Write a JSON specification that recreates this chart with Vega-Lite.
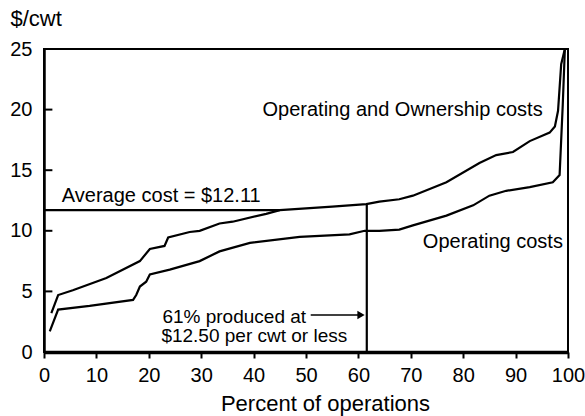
{
  "$schema": "https://vega.github.io/schema/vega-lite/v6.json",
  "width": 524,
  "height": 303,
  "autosize": "none",
  "padding": {"left": 44, "top": 49, "right": 17, "bottom": 64},
  "background": "white",
  "config": {
    "font": "Liberation Sans",
    "view": {"stroke": "black", "strokeWidth": 2},
    "axis": {
      "grid": false,
      "domainColor": "black",
      "tickColor": "black",
      "labelColor": "black",
      "titleColor": "black",
      "labelFont": "Liberation Sans",
      "titleFont": "Liberation Sans",
      "labelFontSize": 20,
      "titleFontSize": 22,
      "titleFontWeight": "normal"
    }
  },
  "datasets": {
    "curves": [
      {"series": "Operating and Ownership", "pct": 1.4, "cost": 3.2},
      {"series": "Operating and Ownership", "pct": 2.7, "cost": 4.7},
      {"series": "Operating and Ownership", "pct": 5.5, "cost": 5.1},
      {"series": "Operating and Ownership", "pct": 11.9, "cost": 6.1},
      {"series": "Operating and Ownership", "pct": 18.3, "cost": 7.5},
      {"series": "Operating and Ownership", "pct": 20.2, "cost": 8.5},
      {"series": "Operating and Ownership", "pct": 23.0, "cost": 8.75},
      {"series": "Operating and Ownership", "pct": 23.7, "cost": 9.45},
      {"series": "Operating and Ownership", "pct": 27.8, "cost": 9.9},
      {"series": "Operating and Ownership", "pct": 29.7, "cost": 10.0},
      {"series": "Operating and Ownership", "pct": 33.5, "cost": 10.6},
      {"series": "Operating and Ownership", "pct": 36.0, "cost": 10.75},
      {"series": "Operating and Ownership", "pct": 42.4, "cost": 11.4},
      {"series": "Operating and Ownership", "pct": 45.0, "cost": 11.7},
      {"series": "Operating and Ownership", "pct": 50.0, "cost": 11.85},
      {"series": "Operating and Ownership", "pct": 55.0, "cost": 12.0},
      {"series": "Operating and Ownership", "pct": 61.5, "cost": 12.2},
      {"series": "Operating and Ownership", "pct": 64.0, "cost": 12.4},
      {"series": "Operating and Ownership", "pct": 67.8, "cost": 12.6},
      {"series": "Operating and Ownership", "pct": 70.4, "cost": 12.9},
      {"series": "Operating and Ownership", "pct": 76.8, "cost": 14.0},
      {"series": "Operating and Ownership", "pct": 83.1, "cost": 15.6},
      {"series": "Operating and Ownership", "pct": 86.3, "cost": 16.25},
      {"series": "Operating and Ownership", "pct": 89.5, "cost": 16.5},
      {"series": "Operating and Ownership", "pct": 92.7, "cost": 17.4},
      {"series": "Operating and Ownership", "pct": 96.5, "cost": 18.1},
      {"series": "Operating and Ownership", "pct": 97.5, "cost": 18.6},
      {"series": "Operating and Ownership", "pct": 98.1, "cost": 19.9},
      {"series": "Operating and Ownership", "pct": 98.7, "cost": 23.75},
      {"series": "Operating and Ownership", "pct": 99.4, "cost": 25.0},
      {"series": "Operating", "pct": 1.1, "cost": 1.7},
      {"series": "Operating", "pct": 2.7, "cost": 3.5},
      {"series": "Operating", "pct": 8.7, "cost": 3.8},
      {"series": "Operating", "pct": 17.0, "cost": 4.3},
      {"series": "Operating", "pct": 17.6, "cost": 4.7},
      {"series": "Operating", "pct": 18.3, "cost": 5.4},
      {"series": "Operating", "pct": 19.5, "cost": 5.8},
      {"series": "Operating", "pct": 20.2, "cost": 6.4},
      {"series": "Operating", "pct": 24.0, "cost": 6.8},
      {"series": "Operating", "pct": 29.7, "cost": 7.5},
      {"series": "Operating", "pct": 33.5, "cost": 8.3},
      {"series": "Operating", "pct": 39.3, "cost": 9.0},
      {"series": "Operating", "pct": 48.8, "cost": 9.5},
      {"series": "Operating", "pct": 58.3, "cost": 9.7},
      {"series": "Operating", "pct": 61.2, "cost": 10.0},
      {"series": "Operating", "pct": 64.0, "cost": 10.0},
      {"series": "Operating", "pct": 67.8, "cost": 10.1},
      {"series": "Operating", "pct": 70.4, "cost": 10.45},
      {"series": "Operating", "pct": 76.8, "cost": 11.25},
      {"series": "Operating", "pct": 81.9, "cost": 12.1},
      {"series": "Operating", "pct": 85.0, "cost": 12.9},
      {"series": "Operating", "pct": 88.2, "cost": 13.3},
      {"series": "Operating", "pct": 92.7, "cost": 13.6},
      {"series": "Operating", "pct": 97.1, "cost": 14.0},
      {"series": "Operating", "pct": 98.4, "cost": 14.6},
      {"series": "Operating", "pct": 99.0, "cost": 20.4},
      {"series": "Operating", "pct": 99.4, "cost": 25.0}
    ],
    "rules": [
      {"name": "average", "x": 0, "x2": 45, "y": 11.7, "y2": 11.7},
      {"name": "cutoff", "x": 61.6, "x2": 61.6, "y": 0, "y2": 12.2}
    ],
    "yticks": [
      {"x": 0, "x2": 1.6, "y": 5, "y2": 5},
      {"x": 0, "x2": 1.6, "y": 10, "y2": 10},
      {"x": 0, "x2": 1.6, "y": 15, "y2": 15},
      {"x": 0, "x2": 1.6, "y": 20, "y2": 20}
    ],
    "arrow": [
      {"x": 50.9, "x2": 60.4, "y": 3.05, "y2": 3.05}
    ],
    "arrowhead": [
      {"x": 60.5, "y": 3.05}
    ],
    "labels": [
      {"text": "Average cost = $12.11", "x": 3.4, "y": 12.4, "size": "big"},
      {"text": "Operating and Ownership costs", "x": 41.7, "y": 19.45, "size": "big"},
      {"text": "Operating costs", "x": 72.3, "y": 8.6, "size": "big"},
      {"text": "61% produced at", "x": 22.6, "y": 2.4, "size": "small"},
      {"text": "$12.50 per cwt or less", "x": 22.4, "y": 0.83, "size": "small"}
    ]
  },
  "encoding": {
    "x": {
      "field": "x",
      "type": "quantitative",
      "scale": {"domain": [0, 100], "nice": false},
      "axis": {
        "title": "Percent of operations",
        "values": [0, 10, 20, 30, 40, 50, 60, 70, 80, 90, 100],
        "ticks": true,
        "tickSize": 6,
        "tickWidth": 2,
        "labelPadding": 7,
        "labelFlush": false,
        "labelOverlap": false,
        "domainWidth": 3.5,
        "titleX": 281,
        "titleY": 58,
        "titleBaseline": "alphabetic",
        "titleAlign": "center"
      }
    },
    "y": {
      "field": "y",
      "type": "quantitative",
      "scale": {"domain": [0, 25], "nice": false},
      "axis": {
        "title": "$/cwt",
        "values": [0, 5, 10, 15, 20, 25],
        "ticks": false,
        "labelPadding": 12,
        "domainWidth": 2.5,
        "titleAngle": 0,
        "titleAlign": "left",
        "titleBaseline": "alphabetic",
        "titleX": -34,
        "titleY": -24,
        "titleFontSize": 22
      }
    }
  },
  "layer": [
    {
      "data": {"name": "curves"},
      "mark": {"type": "line", "color": "black", "strokeWidth": 2.2},
      "encoding": {
        "x": {"field": "pct", "type": "quantitative"},
        "y": {"field": "cost", "type": "quantitative"},
        "detail": {"field": "series"}
      }
    },
    {
      "data": {"name": "rules"},
      "mark": {"type": "rule", "color": "black", "strokeWidth": 2.2},
      "encoding": {
        "x2": {"field": "x2"},
        "y2": {"field": "y2"}
      }
    },
    {
      "data": {"name": "yticks"},
      "mark": {"type": "rule", "color": "black", "strokeWidth": 2},
      "encoding": {
        "x2": {"field": "x2"},
        "y2": {"field": "y2"}
      }
    },
    {
      "data": {"name": "arrow"},
      "mark": {"type": "rule", "color": "black", "strokeWidth": 1.5},
      "encoding": {
        "x2": {"field": "x2"},
        "y2": {"field": "y2"}
      }
    },
    {
      "data": {"name": "arrowhead"},
      "mark": {"type": "point", "shape": "triangle-right", "filled": true, "color": "black", "size": 70, "opacity": 1}
    },
    {
      "data": {"name": "labels"},
      "transform": [{"filter": "datum.size === 'big'"}],
      "mark": {"type": "text", "align": "left", "baseline": "alphabetic", "fontSize": 20, "color": "black", "font": "Liberation Sans"},
      "encoding": {"text": {"field": "text"}}
    },
    {
      "data": {"name": "labels"},
      "transform": [{"filter": "datum.size === 'small'"}],
      "mark": {"type": "text", "align": "left", "baseline": "alphabetic", "fontSize": 19, "color": "black", "font": "Liberation Sans"},
      "encoding": {"text": {"field": "text"}}
    }
  ]
}
